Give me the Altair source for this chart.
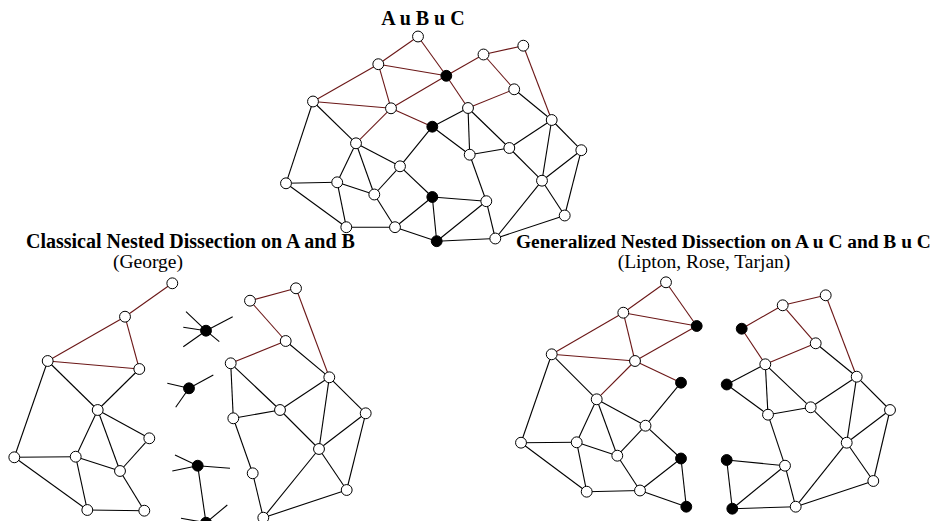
import altair as alt
import pandas as pd

# ---------------- data ----------------
# node groups of the mesh: A (left part), B (right part), C (separator)
A_NODES = [1, 4, 7, 8, 12, 16, 17, 18, 19, 24, 25]
B_NODES = [2, 3, 6, 9, 11, 13, 14, 15, 21, 22, 23, 27]
C_NODES = [5, 10, 20, 26]

# top panel "A u B u C": node ids 1..27
TOP_IDS = list(range(1, 28))
TOP_X = [418.0, 523.3, 483.5, 378.3, 446.3, 514.2, 313.0, 391.0, 468.0, 432.3,
         551.7, 356.0, 469.7, 509.3, 581.3, 400.0, 286.0, 337.2, 374.3, 432.3,
         542.0, 486.3, 564.7, 346.3, 395.0, 436.7, 495.3]
TOP_Y = [36.5, 45.7, 54.5, 64.2, 75.8, 89.3, 101.5, 108.3, 108.0, 126.7,
         120.0, 143.3, 154.7, 148.0, 150.2, 166.3, 183.3, 182.3, 194.5, 197.0,
         180.7, 201.2, 215.5, 227.2, 227.2, 241.2, 238.5]

# classical nested dissection panel: node ids 1..27
CLS_IDS = list(range(1, 28))
CLS_X = [172.3, 296.0, 250.0, 125.0, 206.0, 285.7, 47.7, 139.3, 230.7, 189.0,
         329.3, 97.7, 233.3, 280.0, 365.7, 149.3, 14.3, 75.7, 120.0, 197.7,
         319.0, 252.7, 346.7, 87.3, 144.3, 206.0, 263.3]
CLS_Y = [283.3, 288.3, 300.7, 316.7, 330.7, 341.0, 361.0, 369.0, 363.3, 388.3,
         377.3, 410.0, 418.3, 410.0, 413.3, 438.3, 457.3, 456.7, 471.0, 465.7,
         449.0, 473.3, 490.0, 510.0, 510.7, 522.7, 517.7]

# cut edge stubs on the separator nodes of the classical panel
STUB_FROM = [5, 5, 5, 5, 5, 10, 10, 10, 20, 20, 20, 26, 26, 26]
STUB_X = [186.0, 232.7, 183.3, 183.3, 219.3, 213.3, 167.3, 175.7, 175.0, 172.3,
          230.0, 181.0, 227.3, 236.0]
STUB_Y = [311.7, 316.7, 327.3, 346.7, 341.7, 375.0, 383.3, 407.3, 455.0, 471.0,
          468.3, 518.3, 505.0, 524.0]

# generalized nested dissection panel, left half (A u C)
GENL_IDS = [1, 4, 5, 7, 8, 10, 12, 16, 17, 18, 19, 20, 24, 25, 26]
GENL_X = [666.0, 623.3, 696.7, 551.7, 635.0, 681.0, 596.7, 645.5, 521.0, 576.7,
          617.3, 681.0, 586.7, 640.0, 686.3]
GENL_Y = [282.3, 312.7, 326.0, 354.3, 361.0, 382.7, 399.3, 425.7, 442.7, 442.3,
          455.7, 458.5, 491.7, 490.5, 506.7]

# generalized nested dissection panel, right half (B u C)
GENR_IDS = [2, 3, 5, 6, 9, 10, 11, 13, 14, 15, 20, 21, 22, 23, 26, 27]
GENR_X = [825.7, 782.7, 741.7, 815.7, 765.3, 726.7, 856.7, 768.0, 810.7, 890.0,
          726.7, 846.7, 785.0, 873.3, 732.3, 795.7]
GENR_Y = [295.3, 305.3, 328.7, 343.3, 364.3, 384.5, 376.7, 414.7, 407.3, 410.0,
          460.0, 442.7, 465.7, 481.0, 508.7, 506.7]

# edges of the mesh
RED_EDGES = [(1, 4), (1, 5), (4, 5), (4, 7), (4, 8), (7, 8), (5, 8), (8, 10),
             (8, 12), (3, 5), (2, 3), (2, 11), (3, 6), (6, 9), (5, 9)]
BLACK_EDGES = [(6, 11), (7, 17), (7, 12), (12, 16), (12, 18), (12, 19),
               (10, 16), (16, 20), (16, 19), (17, 18), (17, 24), (18, 19),
               (18, 24), (19, 25), (24, 25), (20, 25), (25, 26), (20, 26),
               (9, 10), (9, 13), (9, 14), (10, 13), (13, 14), (13, 22),
               (11, 14), (14, 21), (11, 21), (11, 15), (15, 21), (15, 23),
               (21, 23), (21, 27), (23, 27), (20, 22), (22, 26), (22, 27),
               (26, 27)]
CLS_BLACK_OVERRIDE = [(8, 12)]

# titles
TITLE_TEXT = ["A u B u C", "Classical Nested Dissection on A and B",
              "Generalized Nested Dissection on A u C and B u C"]
TITLE_X = [423.0, 26.0, 516.0]
TITLE_Y = [25.0, 247.5, 247.5]
TITLE_ALIGN = ["center", "left", "left"]
TITLE_SIZE = [20, 20, 19.4]
SUB_TEXT = ["(George)", "(Lipton, Rose, Tarjan)"]
SUB_X = [148.0, 704.0]
SUB_Y = [268.0, 268.0]

RED = "#6b1717"
BLACK = "#000000"

# ---------------- build tables ----------------
C_SET = set(C_NODES)
KIND = {}
for n in A_NODES:
    KIND[n] = "A"
for n in B_NODES:
    KIND[n] = "B"
for n in C_NODES:
    KIND[n] = "C"

node_rows, edge_rows = [], []


def add_panel(ids, xs, ys, same_kind_only=False, black_override=()):
    pos = {i: (x, y) for i, x, y in zip(ids, xs, ys)}
    for i, (x, y) in pos.items():
        node_rows.append({"x": x, "y": y,
                          "fill": BLACK if i in C_SET else "#ffffff"})
    for edges, col in ((RED_EDGES, RED), (BLACK_EDGES, BLACK)):
        for a, b in edges:
            if a not in pos or b not in pos:
                continue
            if same_kind_only and KIND[a] != KIND[b]:
                continue
            c = BLACK if (a, b) in black_override else col
            edge_rows.append({"x": pos[a][0], "y": pos[a][1],
                              "x2": pos[b][0], "y2": pos[b][1], "color": c})
    return pos


add_panel(TOP_IDS, TOP_X, TOP_Y)
cls_pos = add_panel(CLS_IDS, CLS_X, CLS_Y, same_kind_only=True,
                    black_override=CLS_BLACK_OVERRIDE)
add_panel(GENL_IDS, GENL_X, GENL_Y)
add_panel(GENR_IDS, GENR_X, GENR_Y)

for f, sx, sy in zip(STUB_FROM, STUB_X, STUB_Y):
    edge_rows.append({"x": cls_pos[f][0], "y": cls_pos[f][1],
                      "x2": sx, "y2": sy, "color": BLACK})

nodes = pd.DataFrame(node_rows)
edges = pd.DataFrame(edge_rows)
titles = pd.DataFrame({"x": TITLE_X, "y": TITLE_Y, "t": TITLE_TEXT,
                       "a": TITLE_ALIGN, "s": TITLE_SIZE})
subs = pd.DataFrame({"x": SUB_X, "y": SUB_Y, "t": SUB_TEXT})

W, H = 931, 513
xs = alt.Scale(domain=[8, 8 + W], nice=False, zero=False)
ys = alt.Scale(domain=[8, 8 + H], nice=False, zero=False, reverse=True)

X = lambda f="x": alt.X(f"{f}:Q", scale=xs, axis=None)
Y = lambda f="y": alt.Y(f"{f}:Q", scale=ys, axis=None)

edge_layer = alt.Chart(edges).mark_rule(strokeWidth=1.1).encode(
    x=X(), y=Y(), x2="x2:Q", y2="y2:Q",
    color=alt.Color("color:N", scale=None))

node_layer = alt.Chart(nodes).mark_point(
    shape="circle", filled=True, size=118, stroke="#000000", strokeWidth=1,
    opacity=1).encode(
    x=X(), y=Y(), fill=alt.Fill("fill:N", scale=None))

font = "Liberation Serif"
title_center = alt.Chart(titles[titles.a == "center"]).mark_text(
    font=font, fontWeight="bold", align="center",
    baseline="alphabetic", color="#000").encode(
    x=X(), y=Y(), text="t:N", size=alt.Size("s:Q", scale=None))
title_left = alt.Chart(titles[titles.a == "left"]).mark_text(
    font=font, fontWeight="bold", align="left",
    baseline="alphabetic", color="#000").encode(
    x=X(), y=Y(), text="t:N", size=alt.Size("s:Q", scale=None))
sub_layer = alt.Chart(subs).mark_text(
    font=font, fontSize=19.5, align="center", baseline="alphabetic",
    color="#000").encode(x=X(), y=Y(), text="t:N")

chart = alt.layer(edge_layer, node_layer, title_center, title_left,
                  sub_layer).properties(
    width=W, height=H, autosize=alt.AutoSizeParams(type="none"),
    padding=0, background="#ffffff").configure_view(stroke=None)

chart.save("out.html", embed_options={"renderer": "svg", "actions": False})
